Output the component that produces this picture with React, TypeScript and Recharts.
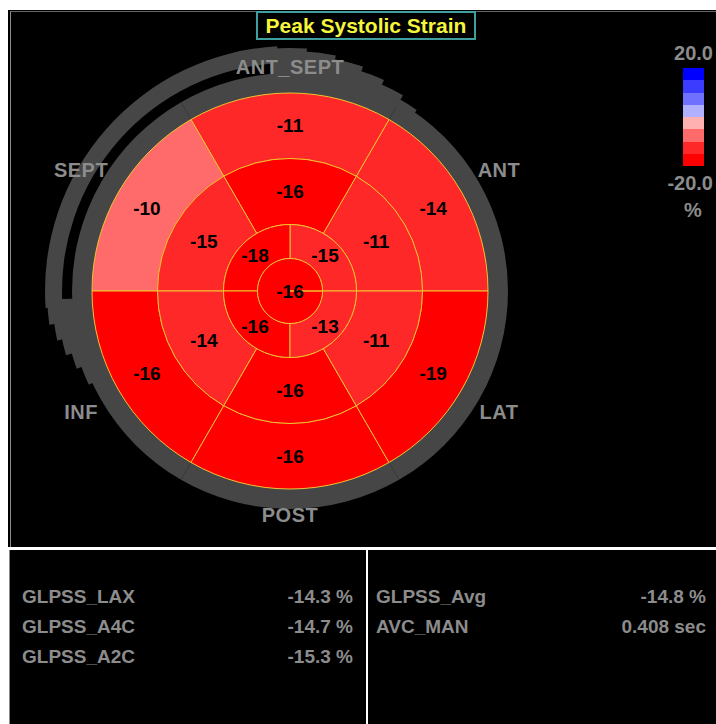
import React from "react"
import { Pie, PieChart } from "recharts"

// strain colour scale, top (+20) to bottom (-20), 5 % per step
const scaleColors = ["#0000ff", "#3c3cff", "#7070ff", "#b0b0ff", "#ffb0b0", "#ff6a6a", "#ff2828", "#ff0000"]
const scaleMax = 20
const scaleMin = -20

// walls in Pie order, counter-clockwise from 3 o'clock
const walls = ["ANT", "ANT_SEPT", "SEPT", "INF", "POST", "LAT"]
const basalStrain = [-14, -11, -10, -16, -16, -19]
const midStrain = [-11, -16, -15, -14, -16, -11]
// apical quadrants: upper-right, upper-left, lower-left, lower-right
const apicalStrain = [-15, -18, -16, -13]
const apexStrain = [-16]

const leftNames = ["GLPSS_LAX", "GLPSS_A4C", "GLPSS_A2C"]
const leftValues = ["-14.3 %", "-14.7 %", "-15.3 %"]
const rightNames = ["GLPSS_Avg", "AVC_MAN"]
const rightValues = ["-14.8 %", "0.408 sec"]

const FONT = "'Liberation Sans', Arial, sans-serif"
const GREY_TEXT = "#8c8c8c"
const RING = "#464646"
const GRID = "#f2c230"
const RADIAN = Math.PI / 180
const CX = 290
const CY = 291

// tapered ends of the detached outer arc: [start, end, outer radius]
const arcTaper = [
  [86, 95, 243], [79, 87, 240], [72, 80, 236], [66, 73, 231], [60, 67, 226], [55, 61, 221],
  [182, 188, 243], [187, 192, 238], [191, 196, 233], [195, 200, 227], [199, 205, 222],
]

function strainColor(v: number) {
  const step = (scaleMax - scaleMin) / scaleColors.length
  const i = Math.ceil((scaleMax - v) / step) - 1
  return scaleColors[Math.max(0, Math.min(scaleColors.length - 1, i))]
}

const toSegments = (values: number[]) =>
  values.map((v, i) => ({ name: `s${i}`, strain: v, span: 1, fill: strainColor(v) }))

const renderStrain = (props: any) => {
  const { cx, cy, midAngle, innerRadius, outerRadius, payload } = props
  const r = (innerRadius + outerRadius) / 2
  const x = innerRadius === 0 ? cx : cx + r * Math.cos(-midAngle * RADIAN)
  const y = innerRadius === 0 ? cy : cy + r * Math.sin(-midAngle * RADIAN)
  return (
    <text x={x} y={y} textAnchor="middle" dominantBaseline="central" fill="#000"
      fontFamily={FONT} fontWeight="bold" fontSize={19}>
      {payload.strain}
    </text>
  )
}

const renderWall = (props: any) => {
  const { cx, cy, midAngle, payload } = props
  const a = -midAngle * RADIAN
  const r = 224 + 20 * Math.abs(Math.cos(a))
  return (
    <text x={cx + r * Math.cos(a)} y={cy + r * Math.sin(a)} textAnchor="middle" dominantBaseline="central"
      fill={GREY_TEXT} fontFamily={FONT} fontWeight="bold" fontSize={20} letterSpacing={0.5}>
      {payload.name}
    </text>
  )
}

export default function App() {
  const wallData = walls.map((w) => ({ name: w, span: 1, fill: RING }))
  const arc = [{ name: "arc", span: 1, fill: RING }]

  return (
    <div style={{ position: "absolute", left: 0, top: 0, width: 716, height: 724, background: "#fff", overflow: "hidden", fontFamily: FONT }}>
      {/* upper panel */}
      <div style={{ position: "absolute", left: 8, top: 10, width: 708, height: 537, background: "#000" }}>
        <div style={{ position: "absolute", left: 2, top: 1, right: 0, bottom: 0, borderLeft: "1px solid #8a8a8a", borderTop: "1px solid #666" }} />
      </div>
      {/* lower panel */}
      <div style={{ position: "absolute", left: 9, top: 550, width: 707, height: 174, background: "#000", borderLeft: "1px solid #888", boxSizing: "border-box" }} />
      <div style={{ position: "absolute", left: 366, top: 550, width: 2, height: 174, background: "#fff" }} />

      <div style={{ position: "absolute", left: 0, top: 0 }}>
        <PieChart width={716} height={548} margin={{ top: 0, right: 0, bottom: 0, left: 0 }}>
          {/* detached outer arc and its tapered ends */}
          <Pie data={arc} dataKey="span" cx={CX} cy={CY} innerRadius={228} outerRadius={245} startAngle={93} endAngle={184} stroke="none" isAnimationActive={false} />
          {arcTaper.map(([s, e, o]) => (
            <Pie key={`t${s}`} data={arc} dataKey="span" cx={CX} cy={CY} innerRadius={212} outerRadius={o} startAngle={s} endAngle={e}
              stroke="none" isAnimationActive={false} />
          ))}
          {/* wall ring with names */}
          <Pie data={wallData} dataKey="span" cx={CX} cy={CY} innerRadius={197} outerRadius={218} startAngle={0} endAngle={360}
            stroke="none" label={renderWall} labelLine={false} isAnimationActive={false} />
          {/* bullseye */}
          <Pie data={toSegments(basalStrain)} dataKey="span" cx={CX} cy={CY} innerRadius={132.5} outerRadius={198} startAngle={0} endAngle={360}
            stroke={GRID} strokeWidth={1} label={renderStrain} labelLine={false} isAnimationActive={false} />
          <Pie data={toSegments(midStrain)} dataKey="span" cx={CX} cy={CY} innerRadius={66.5} outerRadius={132.5} startAngle={0} endAngle={360}
            stroke={GRID} strokeWidth={1} label={renderStrain} labelLine={false} isAnimationActive={false} />
          <Pie data={toSegments(apicalStrain)} dataKey="span" cx={CX} cy={CY} innerRadius={32.5} outerRadius={66.5} startAngle={0} endAngle={360}
            stroke={GRID} strokeWidth={1} label={renderStrain} labelLine={false} isAnimationActive={false} />
          <Pie data={toSegments(apexStrain)} dataKey="span" cx={CX} cy={CY} innerRadius={0} outerRadius={32.5} startAngle={0} endAngle={360}
            stroke={GRID} strokeWidth={1} label={renderStrain} labelLine={false} isAnimationActive={false} />
        </PieChart>
      </div>

      {/* title */}
      <div style={{ position: "absolute", left: 256, top: 11, width: 220, height: 29, boxSizing: "border-box", border: "2px solid #3f9f9f", background: "#000",
        color: "#f5f53c", fontWeight: "bold", fontSize: 21, lineHeight: "25px", textAlign: "center" }}>
        Peak Systolic Strain
      </div>

      {/* colour scale */}
      <div style={{ position: "absolute", right: 3, top: 42, color: GREY_TEXT, fontWeight: "bold", fontSize: 20 }}>{scaleMax.toFixed(1)}</div>
      <div style={{ position: "absolute", left: 683, top: 68, width: 21 }}>
        {scaleColors.map((c) => (
          <div key={c} style={{ height: 12.25, background: c }} />
        ))}
      </div>
      <div style={{ position: "absolute", right: 3, top: 172, color: GREY_TEXT, fontWeight: "bold", fontSize: 20 }}>{scaleMin.toFixed(1)}</div>
      <div style={{ position: "absolute", left: 683, width: 20, top: 199, color: GREY_TEXT, fontWeight: "bold", fontSize: 20, textAlign: "center" }}>%</div>

      {/* global strain table */}
      {leftNames.map((n, i) => (
        <React.Fragment key={n}>
          <div style={{ position: "absolute", left: 22, top: 586 + i * 30, color: GREY_TEXT, fontWeight: "bold", fontSize: 19 }}>{n}</div>
          <div style={{ position: "absolute", right: 716 - 353, top: 586 + i * 30, color: GREY_TEXT, fontWeight: "bold", fontSize: 19 }}>{leftValues[i]}</div>
        </React.Fragment>
      ))}
      {rightNames.map((n, i) => (
        <React.Fragment key={n}>
          <div style={{ position: "absolute", left: 376, top: 586 + i * 30, color: GREY_TEXT, fontWeight: "bold", fontSize: 19 }}>{n}</div>
          <div style={{ position: "absolute", right: 10, top: 586 + i * 30, color: GREY_TEXT, fontWeight: "bold", fontSize: 19 }}>{rightValues[i]}</div>
        </React.Fragment>
      ))}
    </div>
  )
}
